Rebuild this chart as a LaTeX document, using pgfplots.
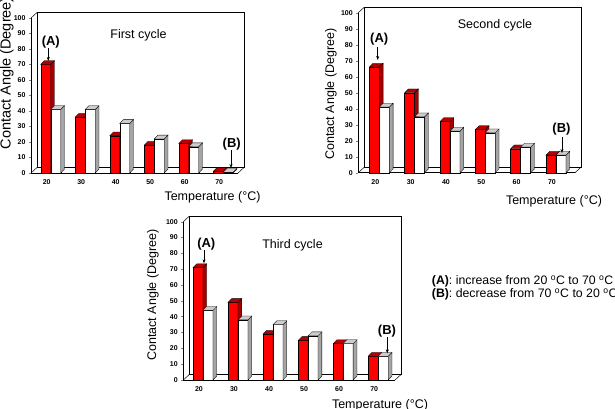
\documentclass[border=0pt]{standalone}
\usepackage{pgfplots}
\pgfplotsset{compat=1.18}
\usepackage{fontspec}
\setmainfont{Liberation Sans}
\usetikzlibrary{arrows.meta}
\definecolor{barred}{RGB}{255,0,0}
\definecolor{barredside}{RGB}{165,0,0}
\definecolor{barredtop}{RGB}{180,0,0}
\definecolor{barwhiteside}{RGB}{165,165,165}
\definecolor{barwhitetop}{RGB}{205,205,205}
\def\ky{1.55}
\def\bw{10}
\def\dd{3.8}
\pgfdeclareplotmark{barR}{%
  \pgfmathsetmacro\hh{\yv*\ky}%
  \filldraw[line width=0.3pt,draw=black,fill=barred] (-\bw pt,-\hh pt) rectangle (0pt,0pt);
  \filldraw[line width=0.3pt,draw=black,fill=barredside] (0pt,0pt) -- (\dd pt,\dd pt) -- (\dd pt,\dd pt-\hh pt) -- (0pt,-\hh pt) -- cycle;
  \filldraw[line width=0.3pt,draw=black,fill=barredtop] (-\bw pt,0pt) -- (0pt,0pt) -- (\dd pt,\dd pt) -- (\dd pt-\bw pt,\dd pt) -- cycle;
}
\pgfdeclareplotmark{barW}{%
  \pgfmathsetmacro\hh{\yv*\ky}%
  \filldraw[line width=0.3pt,draw=black,fill=white] (0pt,-\hh pt) rectangle (\bw pt,0pt);
  \filldraw[line width=0.3pt,draw=black,fill=barwhiteside] (\bw pt,0pt) -- (\bw pt+\dd pt,\dd pt) -- (\bw pt+\dd pt,\dd pt-\hh pt) -- (\bw pt,-\hh pt) -- cycle;
  \filldraw[line width=0.3pt,draw=black,fill=barwhitetop] (0pt,0pt) -- (\bw pt,0pt) -- (\bw pt+\dd pt,\dd pt) -- (\dd pt,\dd pt) -- cycle;
}
\pgfplotsset{
  cyc/.style={
    scale only axis, clip=false, anchor=south west,
    axis lines=left, axis line style={-, line width=0.5pt},
    ymin=0, ymax=100, ytick={0,10,...,100},
    xtick={0,...,5}, xticklabels={20,30,40,50,60,70},
    xtick style={draw=none},
    tick align=outside, major tick length=2pt,
    ytick style={line width=0.4pt},
    ticklabel style={font=\bfseries\fontsize{7}{8}\selectfont},
    xticklabel style={xshift=-4pt, yshift=-1pt},
    yticklabel style={xshift=0pt},
    /pgf/number format/assume math mode=true,
  },
  redbars/.style={only marks, mark=barR, visualization depends on={rawy \as \yv}},
  whitebars/.style={only marks, mark=barW, visualization depends on={rawy \as \yv}},
}
\newcommand\wall[2]{%
  \filldraw[line width=0.5pt,fill=white] ([xshift=6pt,yshift=5.5pt]axis cs:#1,0) rectangle ([xshift=6pt,yshift=5.5pt]axis cs:#2,100);
  \draw[line width=0.5pt] (axis cs:#1,0) -- ([xshift=6pt,yshift=5.5pt]axis cs:#1,0);
  \draw[line width=0.5pt] (axis cs:#1,100) -- ([xshift=6pt,yshift=5.5pt]axis cs:#1,100);
  \draw[line width=0.5pt] (axis cs:#2,0) -- ([xshift=6pt,yshift=5.5pt]axis cs:#2,0);
}
\begin{document}
\begin{tikzpicture}[x=1pt,y=1pt]
\useasboundingbox (0pt,0pt) rectangle (615pt,408pt);
% ---------------- Panel 1
\def\ky{1.55}
\begin{axis}[cyc, at={(31pt,235pt)}, width=207pt, height=155pt, xmin=-0.57, xmax=5.43]
\wall{-0.57}{5.43}
\addplot[redbars] coordinates {(0,70) (1,36) (2,24) (3,18) (4,19) (5,1.0)};
\addplot[whitebars] coordinates {(0,41) (1,41) (2,32) (3,22) (4,17) (5,0.5)};
\end{axis}
% ---------------- Panel 2
\def\ky{1.6}
\begin{axis}[cyc, at={(358.3pt,235.3pt)}, width=216.7pt, height=160pt, xmin=-0.595, xmax=5.54]
\wall{-0.595}{5.54}
\addplot[redbars] coordinates {(0,66) (1,50) (2,32) (3,27) (4,15) (5,11)};
\addplot[whitebars] coordinates {(0,41) (1,35) (2,26) (3,25) (4,16) (5,11)};
\end{axis}
% ---------------- Panel 3
\def\ky{1.583}
\begin{axis}[cyc, at={(183.3pt,28pt)}, width=211.7pt, height=158.3pt, xmin=-0.56, xmax=5.48]
\wall{-0.56}{5.48}
\addplot[redbars] coordinates {(0,71) (1,49) (2,29) (3,25) (4,23) (5,15)};
\addplot[whitebars] coordinates {(0,44) (1,38) (2,35) (3,28) (4,23) (5,15)};
\end{axis}
% ---------------- Labels
\begin{scope}[font=\fontsize{12.5}{14}\selectfont]
\node at (138.5pt,373pt) {First cycle};
\node at (495pt,383pt) {Second cycle};
\node at (292.5pt,163pt) {Third cycle};
\node at (212.5pt,211pt) {Temperature (°C)};
\node at (554pt,207pt) {Temperature (°C)};
\node at (380pt,3pt) {Temperature (°C)};
\node[rotate=90,anchor=west] at (7pt,255pt) {\fontsize{14.5}{16}\selectfont Contact Angle (Degree)};
\node[rotate=90] at (331pt,314pt) {Contact Angle (Degree)};
\node[rotate=90] at (153pt,113pt) {Contact Angle (Degree)};
\end{scope}
\begin{scope}[font=\bfseries\fontsize{13}{15}\selectfont]
\node at (50.8pt,365.5pt) {(A)};
\node at (231.7pt,264pt) {(B)};
\node at (379.2pt,369pt) {(A)};
\node at (561.5pt,279pt) {(B)};
\node at (206.3pt,164.2pt) {(A)};
\node at (387pt,77pt) {(B)};
\end{scope}
\begin{scope}[line width=0.5pt,-{Stealth[length=4pt,width=3pt]}]
\draw (48.3pt,359.5pt) -- (48.3pt,347pt);
\draw (231pt,258pt) -- (231pt,240pt);
\draw (377.7pt,361pt) -- (377.7pt,348pt);
\draw (562pt,271pt) -- (562pt,255pt);
\draw (204pt,158pt) -- (204pt,144.7pt);
\draw (387.3pt,71pt) -- (387.3pt,54.7pt);
\end{scope}
\begin{scope}[font=\fontsize{12.3}{13.5}\selectfont]
\node[anchor=west,inner sep=0pt] at (431.7pt,126.6pt) {\textbf{(A)}: increase from 20 \textsuperscript{o}C to 70 \textsuperscript{o}C};
\node[anchor=west,inner sep=0pt] at (431.7pt,113.8pt) {\textbf{(B)}: decrease from 70 \textsuperscript{o}C to 20 \textsuperscript{o}C};
\end{scope}
\end{tikzpicture}
\end{document}
